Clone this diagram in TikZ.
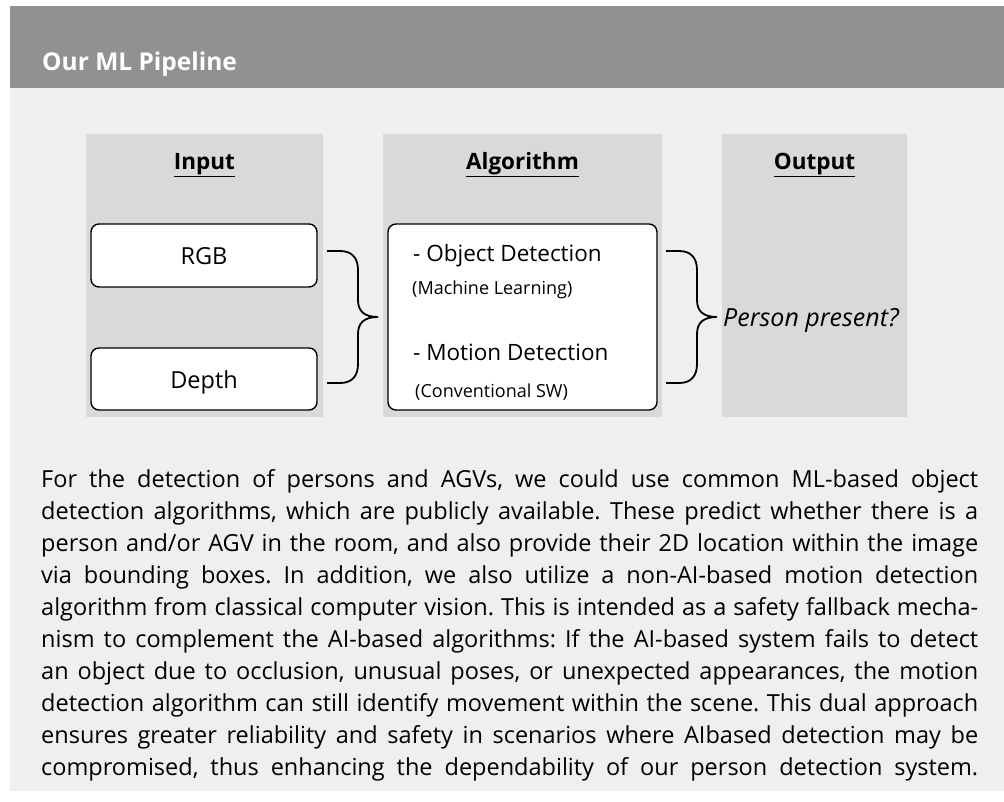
\documentclass[tikz,border=0pt]{standalone}
\usepackage{fontspec}
\usepackage{graphicx}
\setmainfont{Open Sans}
\definecolor{hdrgray}{HTML}{919191}
\definecolor{panelgray}{HTML}{EFEFEF}
\definecolor{colgray}{HTML}{D9D9D9}
\tikzset{
  whitebox/.style={draw=black, line width=1.4pt, fill=white, rounded corners=8pt},
  colhead/.style={font=\fontsize{22.5}{26}\selectfont\bfseries, anchor=base, inner sep=0pt},
  bigtxt/.style={font=\fontsize{23.5}{27}\selectfont, anchor=base, inner sep=0pt},
  algtxt/.style={font=\fontsize{22.5}{26}\selectfont, anchor=base west, inner sep=0pt},
  smalltxt/.style={font=\fontsize{18}{21}\selectfont, anchor=base west, inner sep=0pt},
  bodyline/.style={font=\fontsize{23.5}{32}\selectfont, anchor=base west, inner sep=0pt},
  bracepath/.style={draw=black, line width=1.8pt},
}
\newsavebox\jlbox
\newcommand{\jl}[1]{\frenchspacing\sbox\jlbox{#1}\ifdim\wd\jlbox>937pt\resizebox{937pt}{\height}{\usebox\jlbox}\else\makebox[937pt][s]{#1}\fi}
\begin{document}
\begin{tikzpicture}[x=1pt, y=-1pt]
\useasboundingbox (0,0) rectangle (1004,801);
\fill[white] (0,0) rectangle (1004,801);
\fill[hdrgray] (10,6) rectangle (1004,88);
\fill[panelgray] (10,88) rectangle (1004,791);
\node[anchor=base west, inner sep=0pt, text=white, font=\fontsize{24.5}{28}\selectfont\bfseries] (title) at (42,70) {Our ML Pipeline};
% columns
\fill[colgray] (86,134) rectangle (323,417);
\fill[colgray] (383,134) rectangle (662,417);
\fill[colgray] (722,134) rectangle (907,417);
\node[colhead] (hin) at (204.5,169) {\underline{Input}};
\node[colhead] (halg) at (522.5,169) {\underline{Algorithm}};
\node[colhead] (hout) at (814.5,169) {\underline{Output}};
% input boxes
\draw[whitebox] (91,224) rectangle (317,287);
\node[bigtxt] (rgb) at (204,264) {RGB};
\draw[whitebox] (91,348) rectangle (317,410);
\node[bigtxt] (depth) at (204,388) {Depth};
% algorithm box
\draw[whitebox] (388,224) rectangle (657,410);
\node[algtxt] (od) at (413,261) {- Object Detection};
\node[smalltxt] (ml) at (412,294) {(Machine Learning)};
\node[algtxt] (md) at (413,360) {- Motion Detection};
\node[smalltxt] (cs) at (415,397) {(Conventional SW)};
% braces
\coordinate (b1) at (327,251);
\draw[bracepath] (b1) -- ++(13,0) .. controls +(12,0) and +(0,-12) .. ++(18,19) -- ++(0,30)
  .. controls +(0,11) and +(-14,0) .. ++(20,17)
  .. controls +(-14,0) and +(0,-11) .. ++(-20,17) -- ++(0,30)
  .. controls +(0,12) and +(12,0) .. ++(-18,19) -- ++(-13,0);
\coordinate (b2) at (666,251);
\draw[bracepath] (b2) -- ++(13,0) .. controls +(12,0) and +(0,-12) .. ++(18,19) -- ++(0,30)
  .. controls +(0,11) and +(-14,0) .. ++(20,17)
  .. controls +(-14,0) and +(0,-11) .. ++(-20,17) -- ++(0,30)
  .. controls +(0,12) and +(12,0) .. ++(-18,19) -- ++(-13,0);
\node[anchor=base west, font=\fontsize{25}{29}\selectfont\itshape, inner sep=0pt] (out) at (723,326) {Person present?};
% paragraph
\node[bodyline] (p1) at (41,487) {\jl{For the detection of persons and AGVs, we could use common ML-based object}};
\node[bodyline] (p2) at (41,519) {\jl{detection algorithms, which are publicly available. These predict whether there is a}};
\node[bodyline] (p3) at (41,551) {\jl{person and/or AGV in the room, and also provide their 2D location within the image}};
\node[bodyline] (p4) at (41,583) {\jl{via bounding boxes. In addition, we also utilize a non-AI-based motion detection}};
\node[bodyline] (p5) at (41,615) {\jl{algorithm from classical computer vision. This is intended as a safety fallback mecha-}};
\node[bodyline] (p6) at (41,647) {\jl{nism to complement the AI-based algorithms: If the AI-based system fails to detect}};
\node[bodyline] (p7) at (41,679) {\jl{an object due to occlusion, unusual poses, or unexpected appearances, the motion}};
\node[bodyline] (p8) at (41,711) {\jl{detection algorithm can still identify movement within the scene. This dual approach}};
\node[bodyline] (p9) at (41,743) {\jl{ensures greater reliability and safety in scenarios where AIbased detection may be}};
\node[bodyline] (p10) at (41,775) {\jl{compromised, thus enhancing the dependability of our person detection system.}};
\end{tikzpicture}
\end{document}
